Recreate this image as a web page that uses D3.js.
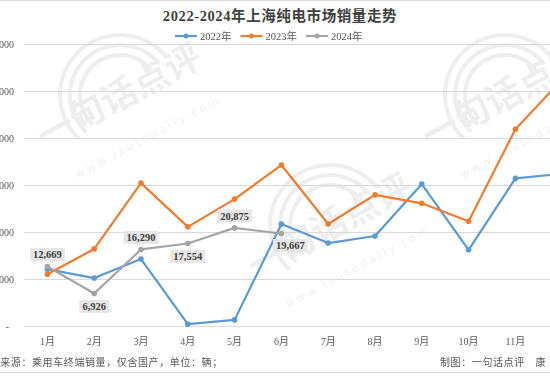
<!DOCTYPE html>
<html>
<head>
<meta charset="utf-8">
<script src="https://cdn.jsdelivr.net/npm/d3@7"></script>
<style>
  body { margin: 0; background: #fff; }
  svg { display: block; }
</style>
</head>
<body>
<svg id="chart" width="550" height="378"></svg>
<script>
// data
const months = ["1月", "2月", "3月", "4月", "5月", "6月", "7月", "8月", "9月", "10月", "11月", "12月"];
const sales2022 = [12100, 10200, 14250, 400, 1300, 21700, 17650, 19150, 30200, 16200, 31400, 32400];
const sales2023 = [11000, 16400, 30400, 21100, 27000, 34250, 21700, 27900, 26100, 22300, 41850, 52500];
const sales2024 = [12669, 6926, 16290, 17554, 20875, 19667];
const yTicks = [0, 10000, 20000, 30000, 40000, 50000, 60000];

const seriesList = [
  { name: "2022年", values: sales2022, color: "#5B9BD5" },
  { name: "2023年", values: sales2023, color: "#ED7D31" },
  { name: "2024年", values: sales2024, color: "#A5A5A5" }
];

const serif = "'Liberation Serif', 'Noto Sans CJK SC', serif";
const cjk = "'Noto Sans CJK SC', sans-serif";

let svg = d3.select("#chart"),
  width = +svg.attr("width"),
  height = +svg.attr("height");

// the picture is cropped: first month sits close to the left edge, december is off-canvas
let x = d3.scalePoint().domain(months).range([24, 585.6]).padding(0.5);
let y = d3.scaleLinear().domain([0, 60000]).range([326, 44]);

// frame lines
svg.append("line").attr("x1", 0).attr("x2", width).attr("y1", 0.5).attr("y2", 0.5)
  .attr("stroke", "#d9d9d9");
svg.append("line").attr("x1", 0).attr("x2", width).attr("y1", 372.5).attr("y2", 372.5)
  .attr("stroke", "#d9d9d9");

// faint watermark
const wm = svg.append("g").attr("opacity", 0.07).attr("fill", "none").attr("stroke", "#000");
[[120, 95], [330, 225], [505, 95]].forEach(([cx, cy]) => {
  [62, 52, 42].forEach((r) => {
    wm.append("path")
      .attr("d", d3.arc()({ innerRadius: r - 4, outerRadius: r, startAngle: -2.4, endAngle: 0.9 }))
      .attr("transform", `translate(${cx},${cy})`)
      .attr("fill", "#000").attr("stroke", "none");
  });
  wm.append("text")
    .attr("transform", `translate(${cx + 5},${cy + 12}) rotate(-28)`)
    .attr("text-anchor", "middle")
    .attr("font-family", cjk).attr("font-size", 36).attr("font-weight", "bold")
    .attr("fill", "#000").attr("stroke", "none")
    .text("一句话点评");
  wm.append("text")
    .attr("transform", `translate(${cx + 30},${cy + 45}) rotate(-28)`)
    .attr("text-anchor", "middle")
    .attr("font-family", "'DejaVu Sans', sans-serif").attr("font-size", 11)
    .attr("letter-spacing", 3)
    .attr("fill", "#000").attr("stroke", "none")
    .text("www.iautodaily.com");
});

// gridlines + y labels
const grid = svg.append("g");
grid.selectAll("line").data(yTicks).join("line")
  .attr("x1", 24).attr("x2", width)
  .attr("y1", (d) => Math.round(y(d)) + 0.5).attr("y2", (d) => Math.round(y(d)) + 0.5)
  .attr("stroke", "#d9d9d9").attr("stroke-width", 1);
grid.selectAll("text").data(yTicks).join("text")
  .attr("x", (d) => (d === 0 ? 9 : 14))
  .attr("y", (d) => y(d) + 3.5)
  .attr("text-anchor", "end")
  .attr("font-family", serif).attr("font-size", 10).attr("fill", "#595959")
  .text((d) => (d === 0 ? "-" : d3.format(",")(d)));

// x axis labels
svg.append("g").selectAll("text").data(months).join("text")
  .attr("x", (d) => x(d))
  .attr("y", 345)
  .attr("text-anchor", "middle")
  .attr("font-family", serif).attr("font-size", 10).attr("fill", "#595959")
  .text((d) => d);

// lines
const line = d3.line()
  .x((d, i) => x(months[i]))
  .y((d) => y(d));

const seriesG = svg.append("g").selectAll("g").data(seriesList).join("g");
seriesG.append("path")
  .attr("d", (s) => line(s.values))
  .attr("fill", "none")
  .attr("stroke", (s) => s.color)
  .attr("stroke-width", 2.2)
  .attr("stroke-linejoin", "round");
seriesG.each(function (s) {
  d3.select(this).selectAll("circle").data(s.values).join("circle")
    .attr("cx", (d, i) => x(months[i]))
    .attr("cy", (d) => y(d))
    .attr("r", 2.8)
    .attr("fill", s.color);
});

// data labels for 2024 (placement as in the picture)
const labelPlace = ["above", "below", "above", "below", "above", "belowRight"];
const labels = svg.append("g");
sales2024.forEach((v, i) => {
  const px = x(months[i]), py = y(v);
  let lx = px, ly = py - 12;
  if (labelPlace[i] === "below") ly = py + 13;
  if (labelPlace[i] === "belowRight") { lx = px + 9; ly = py + 12; }
  const g = labels.append("g").attr("transform", `translate(${lx},${ly})`);
  const t = g.append("text")
    .attr("text-anchor", "middle").attr("y", 3.8)
    .attr("font-family", serif).attr("font-size", 10.5).attr("font-weight", "bold")
    .attr("fill", "#404040")
    .text(d3.format(",")(v));
  const w = t.node().getComputedTextLength() + 6;
  g.insert("rect", "text")
    .attr("x", -w / 2).attr("y", -6.5).attr("width", w).attr("height", 13)
    .attr("fill", "#e7e7e7");
});

// title
svg.append("text")
  .attr("x", 280).attr("y", 21)
  .attr("text-anchor", "middle")
  .attr("font-family", serif).attr("font-size", 14.5).attr("font-weight", "bold")
  .attr("fill", "#404040").attr("letter-spacing", 0.6)
  .text("2022-2024年上海纯电市场销量走势");

// legend
const legend = svg.append("g").attr("transform", "translate(175,36)");
const item = legend.selectAll("g").data(seriesList).join("g")
  .attr("transform", (d, i) => `translate(${i * 65.5},0)`);
item.append("line").attr("x1", 0).attr("x2", 22).attr("y1", 0).attr("y2", 0)
  .attr("stroke", (d) => d.color).attr("stroke-width", 2.2);
item.append("circle").attr("cx", 11).attr("cy", 0).attr("r", 2.5).attr("fill", (d) => d.color);
item.append("text").attr("x", 25).attr("y", 3.5)
  .attr("font-family", serif).attr("font-size", 10.5).attr("fill", "#595959")
  .text((d) => d.name);

// footer
svg.append("text")
  .attr("x", -21).attr("y", 366)
  .attr("font-family", cjk).attr("font-size", 10).attr("fill", "#595959")
  .attr("letter-spacing", 0.6)
  .text("数据来源：乘用车终端销量，仅含国产，单位：辆；");
svg.append("text")
  .attr("x", 440).attr("y", 366)
  .attr("font-family", cjk).attr("font-size", 10).attr("fill", "#595959")
  .attr("letter-spacing", 0.6)
  .text("制图：一句话点评　康");
</script>
</body>
</html>
